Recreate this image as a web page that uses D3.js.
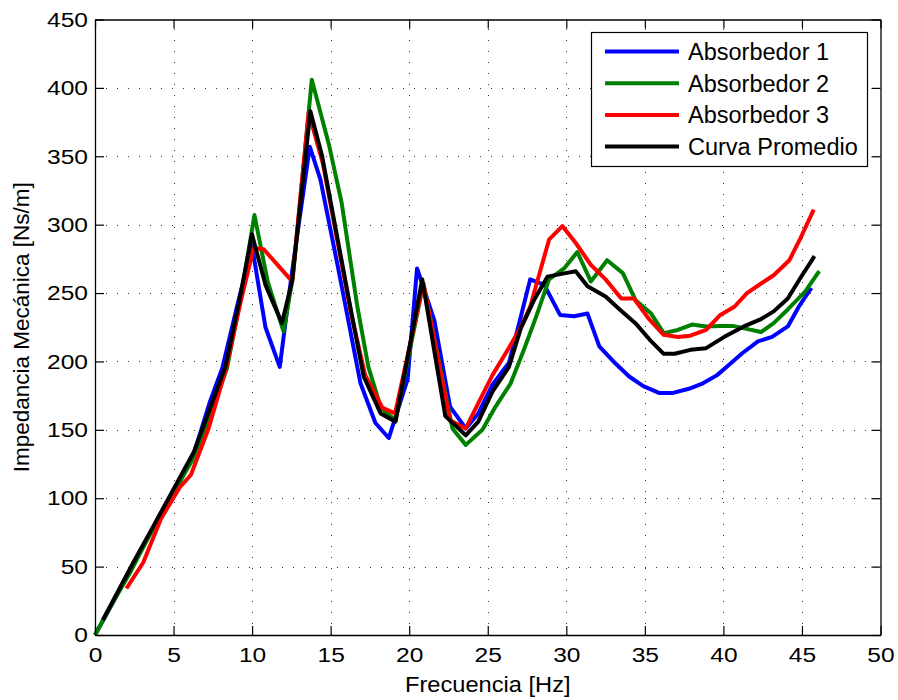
<!DOCTYPE html>
<html>
<head>
<meta charset="utf-8">
<script src="https://cdn.jsdelivr.net/npm/d3@7"></script>
<style>
  html, body { margin: 0; padding: 0; background: #fff; }
  svg { display: block; font-family: "Liberation Sans", Arial, Helvetica, sans-serif; }
</style>
</head>
<body>
<svg id="chart" width="898" height="700"></svg>
<script>
// ---- data ----
const seriesNames = ["Absorbedor 1", "Absorbedor 2", "Absorbedor 3", "Curva Promedio"];

const freqA1 = [0,1.1,2.2,3.2,4.3,5.3,6.3,7.3,8.1,9.1,10.0,10.85,11.76,12.5,13.67,14.35,15.5,16.9,17.85,18.7,19.9,20.5,21.6,22.6,23.6,24.4,25.3,26.35,27.0,27.7,28.6,29.6,30.5,31.35,32.1,33.0,34.0,34.9,35.9,36.8,37.8,38.7,39.6,40.4,41.2,42.2,43.1,44.1,44.8,45.6];
const impA1  = [0,23,47,68,90,110,133,170,195,243,284,225,196,262,357,333,267,184,155,144,187,268,230,167,151,162,183,199,228,260,256,234,233,235,211,200,189,182,177,177,180,184,190,198,206,214.6,218,225.6,240,253.7];

const freqA2 = [0,1.1,2.2,3.2,4.2,5.2,6.2,7.3,8.4,9.3,10.15,11.0,12.0,12.6,13.8,14.9,15.7,16.7,17.4,18.2,19.13,20.9,22.75,23.6,24.66,25.5,26.46,27.3,28.06,28.9,29.86,30.7,31.56,32.6,33.6,34.4,35.4,36.2,37.1,38.0,38.9,39.8,40.6,41.4,42.4,43.2,44.1,45.2,46.1];
const impA2  = [0,23,45,67,88,108,128,160,195,248,307,258,222,262,406,358,316,240,196,166,157,257,151,139,150,167,184,208.5,232,260,268,280,258.5,274,264.6,245,235,220.7,223,227,225.6,226,226,224,221.5,228,238,251,266];

const freqA3 = [2.0,3.07,4.2,5.4,6.1,7.2,8.3,9.3,10.1,10.74,12.55,13.6,14.5,15.4,16.3,17.2,18.3,19.1,20.9,22.6,23.6,24.4,25.3,26.35,27.1,27.7,28.9,29.75,30.6,31.56,32.5,33.5,34.3,35.3,36.2,37.1,37.9,38.9,39.8,40.7,41.5,42.4,43.2,44.2,44.9,45.75];
const impA3  = [34,53,85,108,117,150,193,245,283,282,258.5,382,345,290,235,190,166,162,257,157,151,169.5,190,210,225,240,289,299,286.6,270.7,260,246,246,230.5,219.5,217.8,218.8,223,234,240,250,257,263,274,290,311];

const freqProm = [0.5,2.44,3.4,4.4,5.3,6.3,7.3,8.3,9.2,9.99,10.85,11.9,12.54,13.71,14.46,15.4,16.3,17.1,18.18,19.13,20.83,22.3,23.6,24.4,25.3,26.35,27.1,27.95,28.8,29.7,30.6,31.35,32.5,33.4,34.4,35.3,36.2,36.9,37.9,38.9,40.06,41.3,42.4,43.2,44.1,44.9,45.8];
const impProm  = [11,53,73,94,113,134,165,196,245,293,256,228,258.5,383,350,292,237,189,162,156,260,160,146,156,178,196,224,245,262,264,266,255,247.5,238,228,216,205.6,205.6,208.5,209.7,218,225.6,231,236.6,246,261,277];

const xTickValues = [0,5,10,15,20,25,30,35,40,45,50];
const yTickValues = [0,50,100,150,200,250,300,350,400,450];

const seriesColors = ["#0000ff", "#008000", "#ff0000", "#000000"];

// ---- layout ----
const svg = d3.select("#chart");
const L = 95, R = 880.5, T = 19.5, B = 635;
const x = d3.scaleLinear().domain([0, 50]).range([L, R]);
const y = d3.scaleLinear().domain([0, 450]).range([B, T]);

// background of plot
svg.append("rect").attr("x", L).attr("y", T).attr("width", R - L).attr("height", B - T).attr("fill", "#fff");

// grid
const grid = svg.append("g").attr("stroke", "#333").attr("stroke-width", 1).attr("stroke-dasharray", "1,10");
grid.selectAll("line.vx").data(xTickValues.filter(v => v > 0 && v < 50)).join("line")
  .attr("x1", d => Math.round(x(d)) + 0.5).attr("x2", d => Math.round(x(d)) + 0.5)
  .attr("y1", B).attr("y2", T);
grid.selectAll("line.hy").data(yTickValues.filter(v => v > 0 && v < 450)).join("line")
  .attr("y1", d => Math.round(y(d)) + 0.5).attr("y2", d => Math.round(y(d)) + 0.5)
  .attr("x1", L).attr("x2", R);

// series
const series = [
  { f: freqA1, v: impA1 },
  { f: freqA2, v: impA2 },
  { f: freqA3, v: impA3 },
  { f: freqProm, v: impProm }
];
const line = d3.line().x(d => x(d[0])).y(d => y(d[1]));
series.forEach((s, i) => {
  const pts = s.f.map((f, j) => [f, s.v[j]]);
  svg.append("path").datum(pts)
    .attr("d", line)
    .attr("fill", "none")
    .attr("stroke", seriesColors[i])
    .attr("stroke-width", 4)
    .attr("stroke-linejoin", "round")
    .attr("stroke-linecap", "butt");
});

// axes
const tickFont = 21, sx = 1.17;
const gxB = svg.append("g").attr("transform", `translate(0,${B})`)
  .call(d3.axisBottom(x).tickValues(xTickValues).tickSize(-9).tickSizeOuter(0).tickPadding(12));
const gyL = svg.append("g").attr("transform", `translate(${L},0)`)
  .call(d3.axisLeft(y).tickValues(yTickValues).tickSize(-9).tickSizeOuter(0).tickPadding(6));
const gxT = svg.append("g").attr("transform", `translate(0,${T})`)
  .call(d3.axisTop(x).tickValues(xTickValues).tickSize(-9).tickSizeOuter(0).tickFormat(""));
const gyR = svg.append("g").attr("transform", `translate(${R},0)`)
  .call(d3.axisRight(y).tickValues(yTickValues).tickSize(-9).tickSizeOuter(0).tickFormat(""));

[gxB, gyL, gxT, gyR].forEach(g => {
  g.select(".domain").attr("stroke", "#000").attr("stroke-width", 1.3);
  g.selectAll(".tick line").attr("stroke", "#000").attr("stroke-width", 1.2);
  g.selectAll(".tick text").attr("fill", "#000").attr("font-size", tickFont)
    .attr("font-family", "Liberation Sans, Arial, sans-serif")
    .attr("transform", `scale(${sx},1)`);
});

// axis titles
svg.append("text")
  .attr("transform", `translate(${(L + R) / 2},692) scale(1.1,1)`)
  .attr("text-anchor", "middle").attr("font-size", 21.5).attr("fill", "#000")
  .text("Frecuencia [Hz]");
svg.append("text")
  .attr("transform", `translate(29,${(T + B) / 2}) rotate(-90)`)
  .attr("text-anchor", "middle").attr("font-size", 22.5).attr("fill", "#000")
  .text("Impedancia Mecánica [Ns/m]");

// legend
const lg = svg.append("g");
lg.append("rect").attr("x", 591.5).attr("y", 32.5).attr("width", 276).attr("height", 134)
  .attr("fill", "#fff").attr("stroke", "#000").attr("stroke-width", 1.2);
seriesNames.forEach((name, i) => {
  const yy = 51.5 + i * 31.7;
  lg.append("line").attr("x1", 605).attr("x2", 679).attr("y1", yy).attr("y2", yy)
    .attr("stroke", seriesColors[i]).attr("stroke-width", 4);
  lg.append("text").attr("x", 688).attr("y", yy + 8.5)
    .attr("font-size", 23.5).attr("fill", "#000").text(name);
});
</script>
</body>
</html>
